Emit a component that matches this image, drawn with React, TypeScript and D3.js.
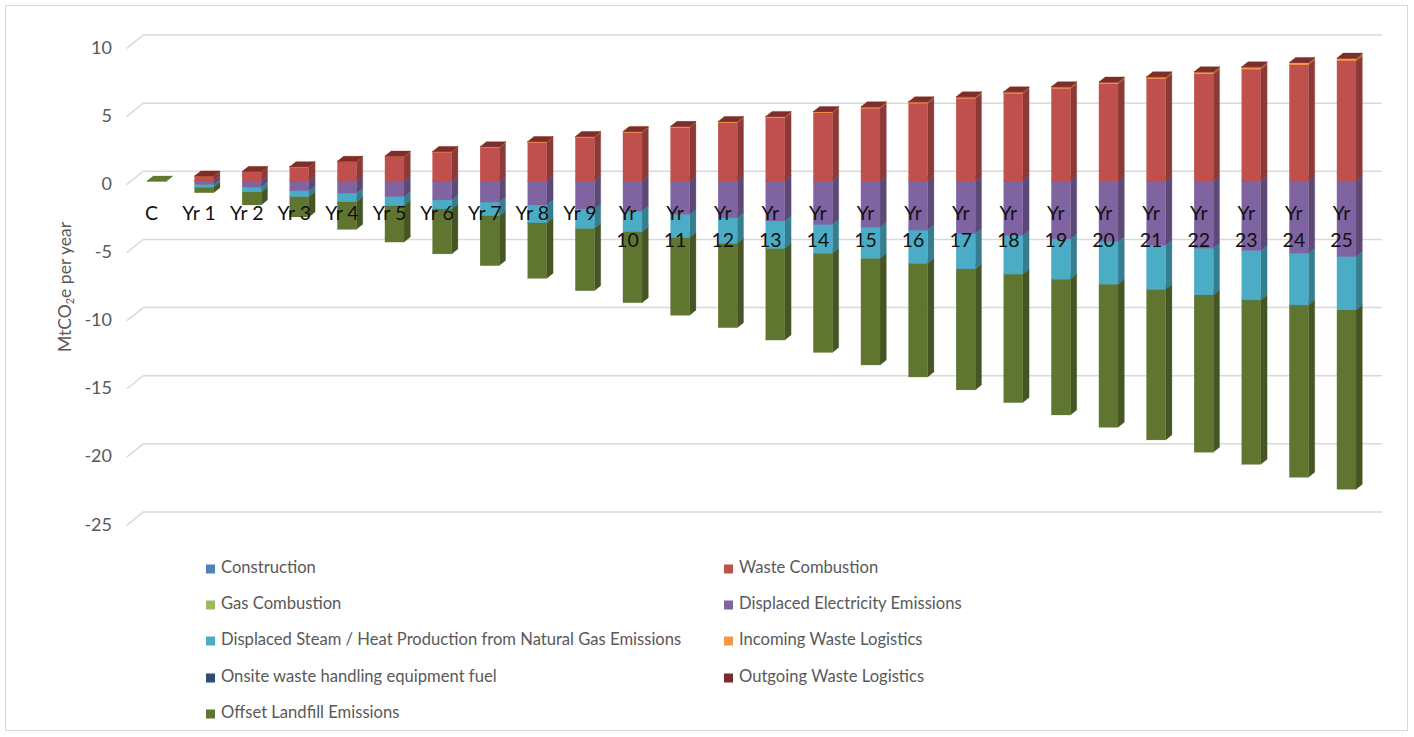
import React from 'react';
import * as d3 from 'd3';

// ---- data (MtCO2e per year) ----
const categories = [
  'C', 'Yr 1', 'Yr 2', 'Yr 3', 'Yr 4', 'Yr 5', 'Yr 6', 'Yr 7', 'Yr 8', 'Yr 9', 'Yr 10',
  'Yr 11', 'Yr 12', 'Yr 13', 'Yr 14', 'Yr 15', 'Yr 16', 'Yr 17', 'Yr 18', 'Yr 19', 'Yr 20',
  'Yr 21', 'Yr 22', 'Yr 23', 'Yr 24', 'Yr 25',
];

const seriesNames = [
  'Construction',
  'Waste Combustion',
  'Gas Combustion',
  'Displaced Electricity Emissions',
  'Displaced Steam / Heat Production from Natural Gas Emissions',
  'Incoming Waste Logistics',
  'Onsite waste handling equipment fuel',
  'Outgoing Waste Logistics',
  'Offset Landfill Emissions',
];

const seriesColors = [
  '#4F81BD', '#C0504D', '#9BBB59', '#8064A2', '#4BACC6',
  '#F79646', '#2C4D75', '#772C2A', '#5F7530',
];

const construction = [0, 0, 0, 0, 0, 0, 0, 0, 0, 0, 0, 0, 0, 0, 0, 0, 0, 0, 0, 0, 0, 0, 0, 0, 0, 0];
const wasteCombustion = [
  0, 0.34, 0.67, 1.01, 1.41, 1.78, 2.12, 2.46, 2.84, 3.2, 3.56, 3.92, 4.28, 4.64, 5.0, 5.34,
  5.71, 6.06, 6.43, 6.79, 7.13, 7.5, 7.86, 8.21, 8.52, 8.83,
];
const gasCombustion = [0, 0, 0, 0, 0, 0, 0, 0, 0, 0, 0, 0, 0, 0, 0, 0, 0, 0, 0, 0, 0, 0, 0, 0, 0, 0];
const displacedElectricity = [
  0, -0.25, -0.45, -0.71, -0.9, -1.15, -1.39, -1.55, -1.76, -2.05, -2.2, -2.45, -2.7, -2.93,
  -3.2, -3.4, -3.6, -3.84, -4.0, -4.25, -4.45, -4.72, -4.94, -5.1, -5.3, -5.55,
];
const displacedSteam = [
  0, -0.2, -0.35, -0.44, -0.62, -0.65, -0.66, -1.0, -1.3, -1.42, -1.52, -1.7, -1.87, -2.01,
  -2.1, -2.27, -2.44, -2.61, -2.83, -2.95, -3.12, -3.23, -3.42, -3.63, -3.8, -3.91,
];
const incomingLogistics = [
  0, 0.01, 0.01, 0.02, 0.02, 0.03, 0.03, 0.04, 0.04, 0.05, 0.05, 0.06, 0.06, 0.07, 0.07, 0.08,
  0.08, 0.09, 0.09, 0.1, 0.11, 0.12, 0.13, 0.14, 0.15, 0.16,
];
const onsiteFuel = [0, 0, 0, 0, 0, 0, 0, 0, 0, 0, 0, 0, 0, 0, 0, 0, 0, 0, 0, 0, 0, 0, 0, 0, 0, 0];
const outgoingLogistics = [
  0, 0.02, 0.02, 0.02, 0.02, 0.02, 0.02, 0.02, 0.02, 0.02, 0.03, 0.03, 0.03, 0.03, 0.03, 0.03,
  0.03, 0.03, 0.03, 0.03, 0.03, 0.03, 0.03, 0.03, 0.03, 0.03,
];
const offsetLandfill = [
  -0.03, -0.41, -0.96, -1.49, -2.03, -2.68, -3.3, -3.66, -4.08, -4.58, -5.21, -5.7, -6.19, -6.73,
  -7.28, -7.83, -8.34, -8.88, -9.43, -9.97, -10.5, -11.05, -11.54, -12.06, -12.64, -13.16,
];

const seriesValues = [
  construction, wasteCombustion, gasCombustion, displacedElectricity, displacedSteam,
  incomingLogistics, onsiteFuel, outgoingLogistics, offsetLandfill,
];

const yTicks = [10, 5, 0, -5, -10, -15, -20, -25];

// ---- layout ----
const W = 1414;
const H = 737;
const FONT = 'Lato, "Open Sans", sans-serif';
const GRID_LEFT = 143.3;
const GRID_RIGHT = 1382;
const FLOOR_DX = -16.6; // oblique depth of the floor (back wall -> front edge)
const FLOOR_DY = 13.3;
const BAR_FRONT_DY = 9.7; // bar front plane relative to back wall
const BAR_DEPTH_DX = 6.3; // bar thickness seen obliquely
const BAR_DEPTH_DY = 5;

const yBack = d3.scaleLinear().domain([-25, 10]).range([512, 35]);
const yBar = (v: number) => yBack(v) + BAR_FRONT_DY;

const xBand = d3
  .scaleBand<string>()
  .domain(categories)
  .range([132.7, 1370.3])
  .paddingInner(0.6)
  .paddingOuter(0.3);

type Row = { [k: string]: number | string };
const keys = seriesNames.map((_, i) => `s${i}`);
const rows: Row[] = categories.map((c, ci) => {
  const r: Row = { cat: c };
  seriesValues.forEach((vals, si) => {
    r[`s${si}`] = vals[ci];
  });
  return r;
});

const stacked = d3
  .stack<Row>()
  .keys(keys)
  .value((d, k) => d[k] as number)
  .offset(d3.stackOffsetDiverging)(rows);

type Seg = { ci: number; si: number; lo: number; hi: number };
const segments: Seg[] = [];
stacked.forEach((layer, si) => {
  layer.forEach((pt, ci) => {
    const a = pt[0];
    const b = pt[1];
    if (a === b) return;
    segments.push({ ci, si, lo: Math.min(a, b), hi: Math.max(a, b) });
  });
});
// paint back-to-front: per category, lowest segment first so upper fronts cover lower tops
segments.sort((p, q) => (p.ci - q.ci) || (p.lo - q.lo));

function Bar3D({ seg }: { seg: Seg }) {
  const cat = categories[seg.ci];
  const x = xBand(cat) as number;
  const w = xBand.bandwidth();
  const yt = yBar(seg.hi);
  const yb = yBar(seg.lo);
  const base = d3.color(seriesColors[seg.si])!;
  const front = base.formatHex();
  const side = base.darker(0.9).formatHex();
  const top = base.brighter(0.1).formatHex();
  const dx = BAR_DEPTH_DX;
  const dy = BAR_DEPTH_DY;
  return (
    <g>
      <polygon
        points={`${x + w},${yt} ${x + w + dx},${yt - dy} ${x + w + dx},${yb - dy} ${x + w},${yb}`}
        fill={side}
        stroke={side}
        strokeWidth={0.3}
      />
      <rect x={x} y={yt} width={w} height={Math.max(yb - yt, 0.01)} fill={front} stroke={front} strokeWidth={0.3} />
      <polygon
        points={`${x},${yt} ${x + dx},${yt - dy} ${x + w + dx},${yt - dy} ${x + w},${yt}`}
        fill={top}
        stroke={top}
        strokeWidth={0.3}
      />
    </g>
  );
}

const legendLeftX = 206;
const legendRightX = 724;
const legendRowY = [569, 605, 641, 678, 714];

export default function App() {
  const labelY = yBack(0) + 44;
  return (
    <svg
      width={W}
      height={H}
      viewBox={`0 0 ${W} ${H}`}
      style={{ position: 'absolute', left: 0, top: 0, background: '#fff' }}
      fontFamily={FONT}
    >
      <rect x={0} y={0} width={W} height={H} fill="#fff" />
      <rect x={5.5} y={5.5} width={1402} height={725} fill="none" stroke="#d9d9d9" strokeWidth={1} />

      {/* back-wall gridlines with their oblique floor edge */}
      {yTicks.map((t) => {
        const y = yBack(t);
        return (
          <path
            key={`g${t}`}
            d={`M${GRID_LEFT + FLOOR_DX},${y + FLOOR_DY} L${GRID_LEFT},${y} L${GRID_RIGHT},${y}`}
            fill="none"
            stroke="#d9d9d9"
            strokeWidth={1.5}
          />
        );
      })}

      {/* value axis labels */}
      {yTicks.map((t) => (
        <text
          key={`t${t}`}
          x={112}
          y={yBack(t) + 14}
          textAnchor="end"
          dominantBaseline="middle"
          fontSize={18}
          fill="#595959"
        >
          {t}
        </text>
      ))}

      {/* axis title */}
      <text
        transform={`translate(67,287) rotate(-90)`}
        textAnchor="middle"
        dominantBaseline="middle"
        fontSize={17.5}
        fill="#595959"
      >
        MtCO<tspan fontSize={11} dy={4}>2</tspan>
        <tspan dy={-4}>e per year</tspan>
      </text>

      {/* stacked 3-D columns */}
      {segments.map((s, i) => (
        <Bar3D key={i} seg={s} />
      ))}

      {/* category labels */}
      {categories.map((c) => {
        const cx = (xBand(c) as number) + xBand.bandwidth() / 2 - 5;
        const lines = c.length > 4 ? c.split(' ') : [c];
        return (
          <text
            key={`c${c}`}
            x={cx}
            y={labelY}
            textAnchor="middle"
            dominantBaseline="middle"
            fontSize={19.5}
            fill="#111"
          >
            {lines.map((ln, li) => (
              <tspan key={li} x={cx} dy={li === 0 ? 0 : 27}>
                {ln}
              </tspan>
            ))}
          </text>
        );
      })}

      {/* legend */}
      {seriesNames.map((name, i) => {
        const col = i % 2;
        const row = Math.floor(i / 2);
        const x = col === 0 ? legendLeftX : legendRightX;
        const y = legendRowY[row];
        return (
          <g key={`l${i}`}>
            <rect x={x} y={y - 4.5} width={9} height={9} fill={seriesColors[i]} />
            <text x={x + 15} y={y} dominantBaseline="middle" fontSize={16.6} fill="#595959">
              {name}
            </text>
          </g>
        );
      })}
    </svg>
  );
}
